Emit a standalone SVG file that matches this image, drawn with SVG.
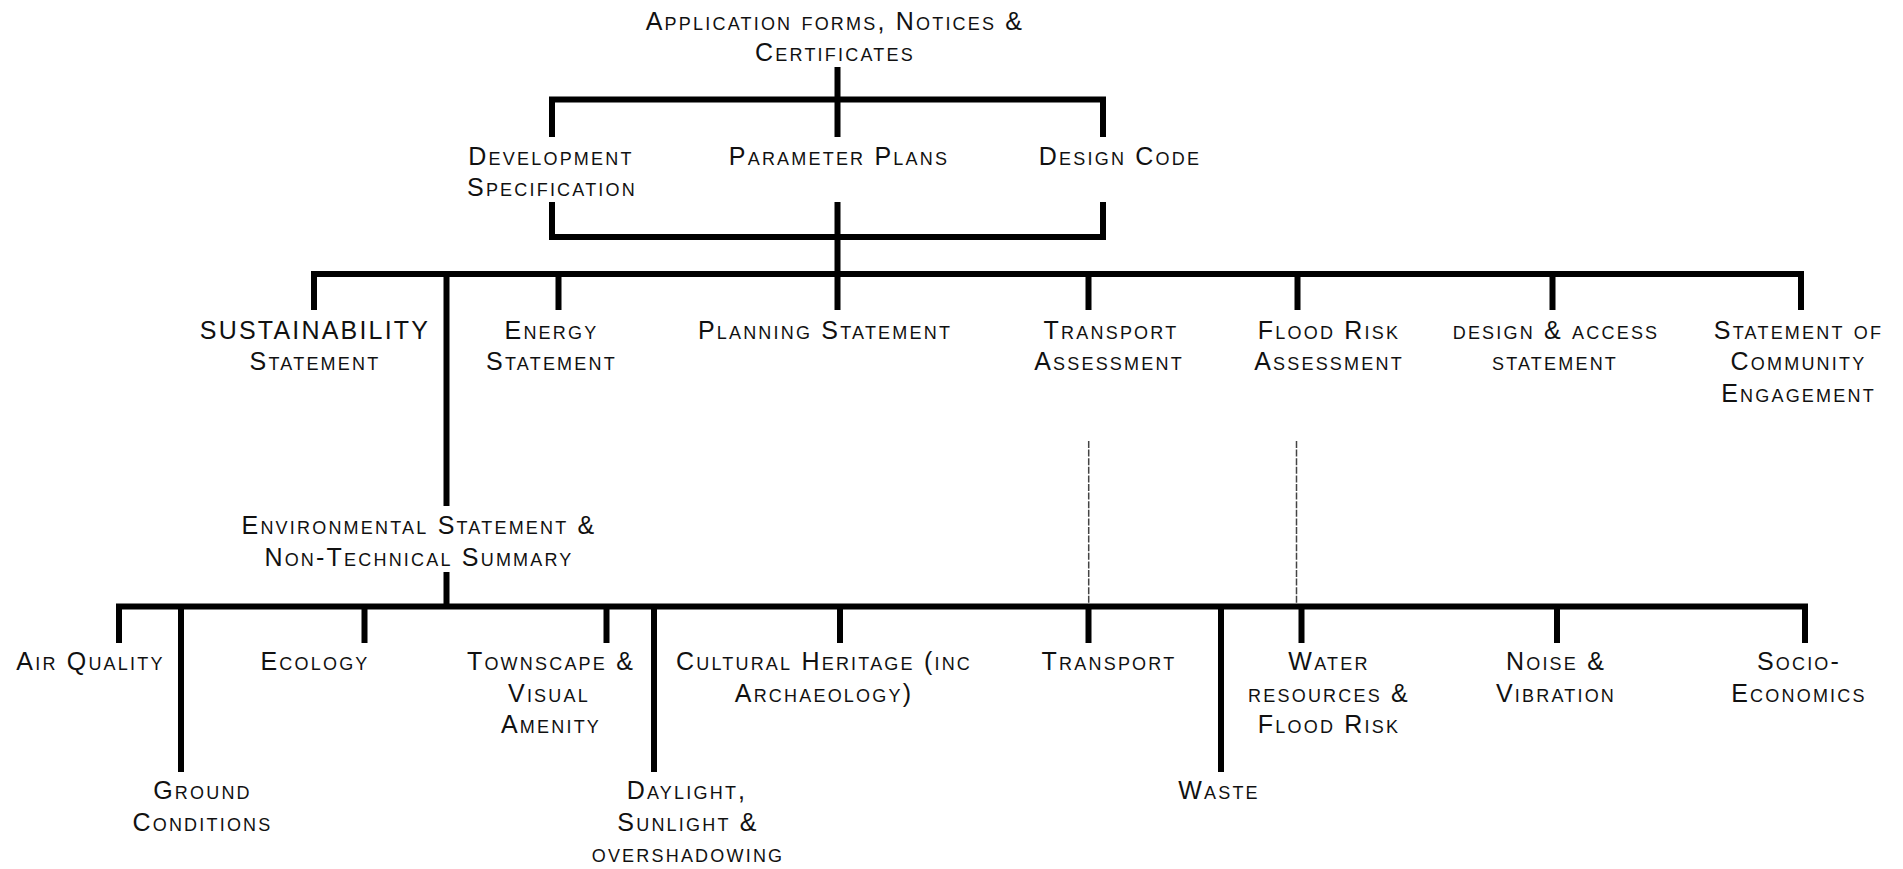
<svg xmlns="http://www.w3.org/2000/svg" width="1903" height="869" viewBox="0 0 1903 869">
<style>
.t{font-family:"Liberation Sans",Arial,sans-serif;font-size:25px;font-variant:small-caps;letter-spacing:2.2px;fill:#111;text-anchor:middle}
.c{stroke:#000;stroke-width:6;fill:none;stroke-linecap:butt}
.h{stroke:#000;stroke-width:6;fill:none;stroke-linecap:square}
.d{stroke:#444;stroke-width:1.5;fill:none;stroke-dasharray:7 1.6}
</style>
<rect width="1903" height="869" fill="#fff"/>
<g id="connectors">
<path class="c" d="M837.5 67V137M552 99.5V137M1103 99.5V137"/>
<path class="h" d="M552 99.5H1103"/>
<path class="c" d="M552 202V237M1103 202V237M837.5 202V310"/>
<path class="h" d="M552 237H1103"/>
<path class="h" d="M314 274H1801"/>
<path class="c" d="M314 274V310M558.5 274V310M1088.5 274V310M1297.5 274V310M1552.5 274V310M1801 274V310"/>
<path class="c" d="M446.5 274V506M446.5 572V606.5"/>
<path class="h" d="M119 606.5H1805"/>
<path class="c" d="M119 606.5V643M364.5 606.5V643M606.5 606.5V643M840 606.5V643M1088.5 606.5V643M1301.5 606.5V643M1557 606.5V643M1805 606.5V643"/>
<path class="c" d="M181 606.5V772M654 606.5V772M1221 606.5V772"/>
<path class="d" d="M1088.7 441V604M1296.5 441V604"/>
</g>
<g id="n-application"><text class="t" x="835" y="29.5">Application forms, Notices &amp;</text><text class="t" x="835" y="61">Certificates</text></g>
<g id="n-devspec"><text class="t" x="551" y="164.5">Development</text><text class="t" x="552" y="196">Specification</text></g>
<g id="n-parameter"><text class="t" x="839" y="164.5">Parameter Plans</text></g>
<g id="n-designcode"><text class="t" x="1120" y="164.5">Design Code</text></g>
<g id="n-sustainability"><text class="t" x="315" y="338.5">SUSTAINABILITY</text><text class="t" x="315" y="370">Statement</text></g>
<g id="n-energy"><text class="t" x="551.5" y="338.5">Energy</text><text class="t" x="551.5" y="370">Statement</text></g>
<g id="n-planning"><text class="t" x="825" y="338.5">Planning Statement</text></g>
<g id="n-transportassess"><text class="t" x="1111" y="338.5">Transport</text><text class="t" x="1109" y="370">Assessment</text></g>
<g id="n-floodrisk"><text class="t" x="1329" y="338.5">Flood Risk</text><text class="t" x="1329" y="370">Assessment</text></g>
<g id="n-designaccess"><text class="t" x="1556" y="338.5">design &amp; access</text><text class="t" x="1555" y="370">statement</text></g>
<g id="n-community"><text class="t" x="1798.5" y="338.5">Statement of</text><text class="t" x="1798.5" y="370">Community</text><text class="t" x="1798.5" y="401.5">Engagement</text></g>
<g id="n-environmental"><text class="t" x="419" y="534">Environmental Statement &amp;</text><text class="t" x="419" y="566">Non-Technical Summary</text></g>
<g id="n-airquality"><text class="t" x="90.5" y="670">Air Quality</text></g>
<g id="n-ground"><text class="t" x="202.5" y="799">Ground</text><text class="t" x="202.5" y="830.5">Conditions</text></g>
<g id="n-ecology"><text class="t" x="315" y="670">Ecology</text></g>
<g id="n-townscape"><text class="t" x="551" y="670">Townscape &amp;</text><text class="t" x="549" y="701.5">Visual</text><text class="t" x="551" y="733">Amenity</text></g>
<g id="n-daylight"><text class="t" x="687" y="799">Daylight,</text><text class="t" x="688" y="830.5">Sunlight &amp;</text><text class="t" x="688" y="862">overshadowing</text></g>
<g id="n-cultural"><text class="t" x="824" y="670">Cultural Heritage (inc</text><text class="t" x="824" y="701.5">Archaeology)</text></g>
<g id="n-transport"><text class="t" x="1109" y="670">Transport</text></g>
<g id="n-waste"><text class="t" x="1219" y="799">Waste</text></g>
<g id="n-water"><text class="t" x="1329" y="670">Water</text><text class="t" x="1329" y="701.5">resources &amp;</text><text class="t" x="1329" y="733">Flood Risk</text></g>
<g id="n-noise"><text class="t" x="1556" y="670">Noise &amp;</text><text class="t" x="1556" y="701.5">Vibration</text></g>
<g id="n-socio"><text class="t" x="1799" y="670">Socio-</text><text class="t" x="1799" y="701.5">Economics</text></g>
</svg>
